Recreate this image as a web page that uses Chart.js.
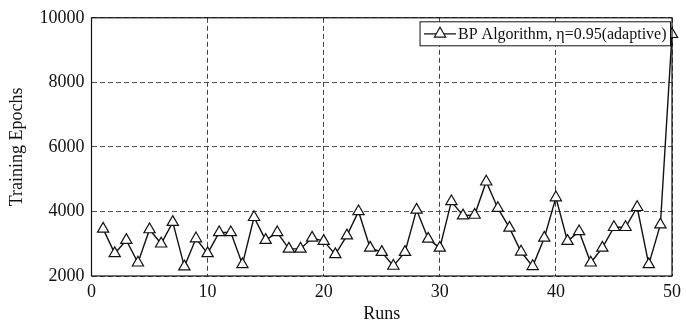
<!DOCTYPE html>
<html>
<head>
<meta charset="utf-8">
<script src="https://cdn.jsdelivr.net/npm/chart.js@4"></script>
<style>
  html, body { margin: 0; padding: 0; background: #fff; }
  #wrap { width: 686px; height: 325px; }
</style>
</head>
<body>
<div id="wrap"><canvas id="grafico" width="686" height="325"></canvas></div>
<script>
const runs = [1,2,3,4,5,6,7,8,9,10,11,12,13,14,15,16,17,18,19,20,21,22,23,24,25,26,27,28,29,30,31,32,33,34,35,36,37,38,39,40,41,42,43,44,45,46,47,48,49,50];
const epochs = [3460,2700,3110,2410,3440,3000,3670,2290,3160,2700,
                3350,3350,2360,3820,3110,3350,2840,2840,3180,3080,
                2670,3250,4000,2870,2740,2310,2740,4050,3150,2870,
                4310,3870,3890,4920,4100,3490,2750,2300,3180,4430,
                3080,3380,2410,2870,3510,3510,4130,2360,3590,9490];
const xTicks = [0,10,20,30,40,50];
const yTicks = [2000,4000,6000,8000,10000];
const serieLabel = "BP Algorithm, \u03b7=0.95(adaptive)";

const fuente = "'Liberation Serif', 'Times New Roman', serif";

/* marco negro alrededor del area */
const marco = {
  id: "marco",
  afterDraw(chart) {
    const { ctx, chartArea: a } = chart;
    ctx.save();
    ctx.strokeStyle = "#111";
    ctx.lineWidth = 1.2;
    ctx.setLineDash([]);
    ctx.strokeRect(a.left, a.top, a.right - a.left, a.bottom - a.top);
    ctx.restore();
  }
};

/* leyenda tipo matlab */
const leyenda = {
  id: "leyenda",
  afterDraw(chart) {
    const { ctx, chartArea: a } = chart;
    const ds = chart.data.datasets[0];
    ctx.save();
    ctx.font = "16px " + fuente;
    const tw = ctx.measureText(ds.label).width;
    const right = a.right - 1.5;
    const top = a.top + 4;
    const h = 24;
    const w = tw + 42;
    const left = right - w;
    ctx.fillStyle = "#fff";
    ctx.fillRect(left, top, w, h);
    ctx.strokeStyle = "#111";
    ctx.lineWidth = 1;
    ctx.strokeRect(left, top, w, h);
    const cy = top + h / 2;
    ctx.beginPath();
    ctx.moveTo(left + 4, cy);
    ctx.lineTo(left + 36, cy);
    ctx.lineWidth = 1.3;
    ctx.stroke();
    ctx.fillStyle = "#fff";
    ctx.strokeStyle = "#111";
    ctx.lineWidth = 1.2;
    Chart.helpers.drawPoint(ctx, { pointStyle: "triangle", radius: 6.5, rotation: 0, borderWidth: 1.2 }, left + 20, cy);
    ctx.fillStyle = "#111";
    ctx.textBaseline = "middle";
    ctx.textAlign = "left";
    ctx.fillText(ds.label, left + 38, cy + 1);
    ctx.restore();
  }
};

const config = {
  type: "line",
  data: {
    datasets: [{
      label: serieLabel,
      data: runs.map((r, i) => ({ x: r, y: epochs[i] })),
      borderColor: "#111",
      borderWidth: 1.4,
      pointStyle: "triangle",
      pointRadius: 6.5,
      pointBackgroundColor: "#fff",
      pointBorderColor: "#111",
      pointBorderWidth: 1.2,
      tension: 0,
      clip: false
    }]
  },
  options: {
    responsive: false,
    animation: false,
    layout: { padding: { left: 0, right: 12, top: 16, bottom: 0 } },
    plugins: { legend: { display: false }, tooltip: { enabled: false } },
    scales: {
      x: {
        type: "linear",
        min: 0, max: 50,
        afterBuildTicks: (s) => { s.ticks = xTicks.map(v => ({ value: v })); },
        afterFit: (s) => { s.height = 49; },
        grid: { color: "#444", lineWidth: 1, drawTicks: false },
        border: { display: false, dash: [5, 3] },
        ticks: { color: "#111", font: { family: fuente, size: 18 }, padding: 5, maxRotation: 0,
                 callback: (v) => String(v) },
        title: { display: true, text: "Runs", color: "#111", font: { family: fuente, size: 18 }, padding: { top: 0, bottom: 0 } }
      },
      y: {
        min: 2000, max: 10000,
        afterBuildTicks: (s) => { s.ticks = yTicks.map(v => ({ value: v })); },
        afterFit: (s) => { s.width = 91.5; },
        grid: { color: "#555", lineWidth: 1, drawTicks: false },
        border: { display: false, dash: [5, 3] },
        ticks: { color: "#111", font: { family: fuente, size: 18 }, padding: 7,
                 callback: (v) => String(v) },
        title: { display: true, text: "Training Epochs", color: "#111", font: { family: fuente, size: 18 }, padding: { top: 6, bottom: 0 } }
      }
    }
  },
  plugins: [marco, leyenda]
};

new Chart(document.getElementById("grafico"), config);
</script>
</body>
</html>
